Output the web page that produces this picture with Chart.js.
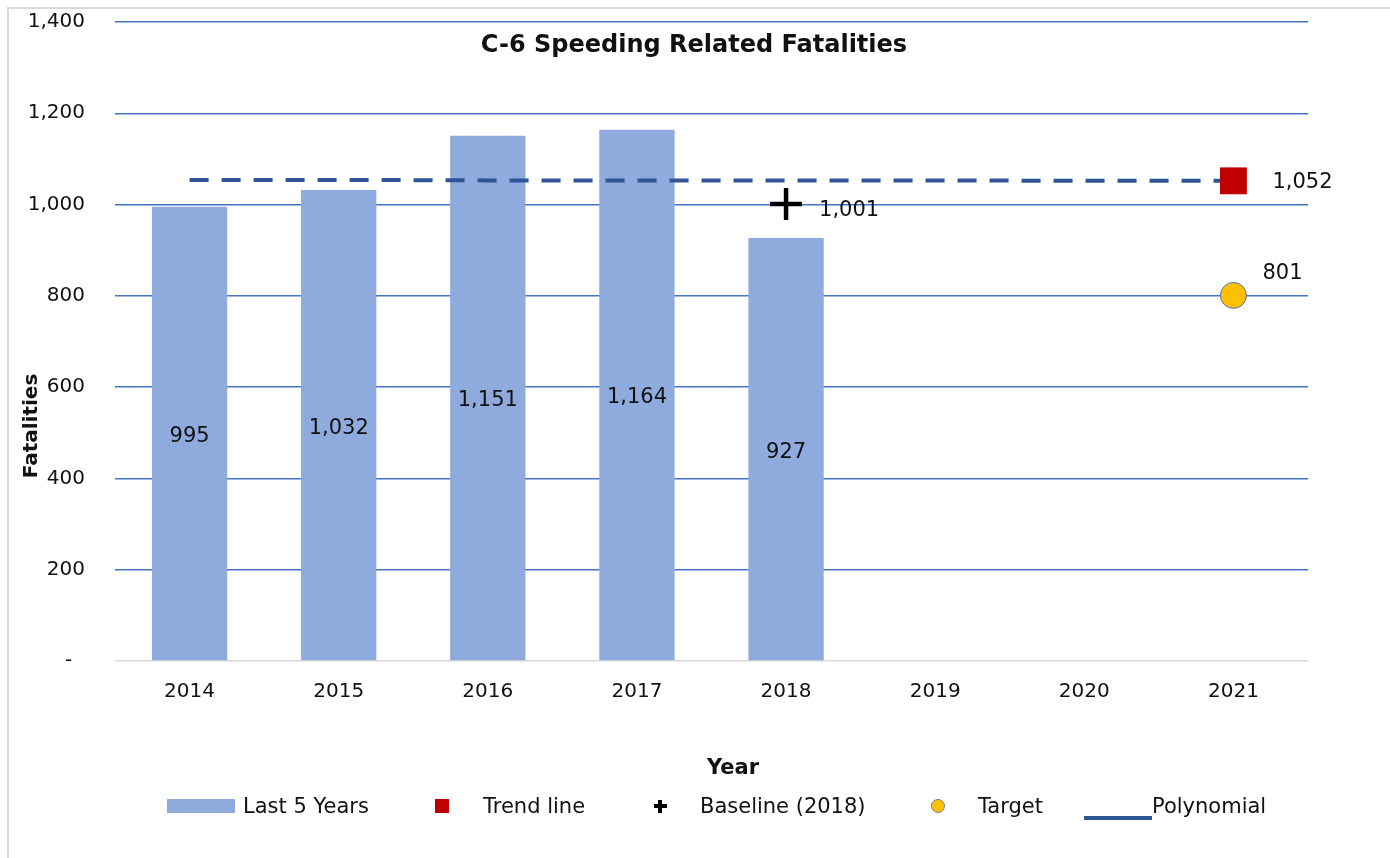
<!DOCTYPE html>
<html>
<head>
<meta charset="utf-8">
<script src="https://cdn.jsdelivr.net/npm/chart.js@4"></script>
<style>
  body { margin: 0; background: #fff; overflow: hidden; font-family: "DejaVu Sans", sans-serif; }
  #frame { position: absolute; left: 7px; top: 7px; width: 1500px; height: 1000px; border: 2px solid #d9d9d9; }
  #wrap { position: absolute; left: 0; top: 0; width: 1390px; height: 858px; }
  .lg { position: absolute; }
  .lgtext { position: absolute; top: 794px; font-size: 21px; line-height: 24px; color: #111; white-space: nowrap; }
</style>
</head>
<body>
<div id="frame"></div>
<div id="wrap"><canvas id="speeding-chart" width="1390" height="858"></canvas></div>

<!-- legend -->
<div class="lg" style="left:167px;top:799px;width:68px;height:14px;background:#8FAADC"></div>
<div class="lgtext" style="left:243px">Last 5 Years</div>
<div class="lg" style="left:435px;top:799px;width:14px;height:14px;background:#C00000"></div>
<div class="lgtext" style="left:483px">Trend line</div>
<div class="lg" style="left:654px;top:804px;width:13px;height:4px;background:#000"></div>
<div class="lg" style="left:658px;top:800px;width:4px;height:13px;background:#000"></div>
<div class="lgtext" style="left:700px">Baseline (2018)</div>
<div class="lg" style="left:931px;top:799px;width:12px;height:12px;border-radius:50%;background:#FFC000;border:1px solid #7a7f95"></div>
<div class="lgtext" style="left:978px">Target</div>
<div class="lg" style="left:1084px;top:816px;width:68px;height:4px;background:#2F5597"></div>
<div class="lgtext" style="left:1152px">Polynomial</div>

<script>
// chart data
const years = ['2014', '2015', '2016', '2017', '2018', '2019', '2020', '2021'];
const last_5_years = [995, 1032, 1151, 1164, 927, null, null, null];
const trend_line = [null, null, null, null, null, null, null, 1052];
const baseline_2018 = [null, null, null, null, 1001, null, null, null];
const target = [null, null, null, null, null, null, null, 801];
const polynomial = [1054, 1054, 1053, 1053, 1053, 1053, 1052, 1052];
const y_ticks = [0, 200, 400, 600, 800, 1000, 1200, 1400];

const font_family = '"DejaVu Sans", sans-serif';
const fmt = v => v.toLocaleString('en-US');

// value labels + titles drawn on the canvas
const labelsPlugin = {
    id: 'labels',
    afterDatasetsDraw(chart) {
        const ctx = chart.ctx;
        ctx.save();
        ctx.fillStyle = '#111';
        ctx.font = '21px ' + font_family;
        ctx.textBaseline = 'middle';
        chart.data.datasets.forEach((ds, i) => {
            if (!ds.labelPos) return;
            let meta = chart.getDatasetMeta(i);
            meta.data.forEach((el, j) => {
                let v = ds.data[j];
                if (v === null || v === undefined) return;
                if (ds.labelPos === 'center') {
                    ctx.textAlign = 'center';
                    ctx.fillText(fmt(v), el.x, (el.y + el.base) / 2 + 3);
                } else {
                    ctx.textAlign = 'left';
                    ctx.fillText(fmt(v), el.x + ds.labelPos[0], el.y + ds.labelPos[1]);
                }
            });
        });
        ctx.restore();
    },
    afterDraw(chart) {
        const ctx = chart.ctx;
        ctx.save();
        ctx.fillStyle = '#111';
        ctx.textAlign = 'center';
        ctx.textBaseline = 'middle';
        ctx.font = 'bold 24px ' + font_family;
        ctx.fillText('C-6 Speeding Related Fatalities', 694, 46);
        ctx.font = 'bold 21px ' + font_family;
        ctx.fillText('Year', 733, 769);
        ctx.translate(32, 426);
        ctx.rotate(-Math.PI / 2);
        ctx.font = 'bold 20px ' + font_family;
        ctx.fillText('Fatalities', 0, 0);
        ctx.restore();
    }
};

let speeding_chart = new Chart(document.getElementById('speeding-chart').getContext('2d'), {
    data: {
        labels: years,
        datasets: [
            {
                type: 'line',
                label: 'Target',
                data: target,
                showLine: false,
                pointStyle: 'circle',
                pointRadius: 13,
                pointHoverRadius: 13,
                backgroundColor: '#FFC000',
                borderColor: '#4472C4',
                borderWidth: 1,
                labelPos: [29, -22],
                order: 1
            },
            {
                type: 'line',
                label: 'Baseline (2018)',
                data: baseline_2018,
                showLine: false,
                pointStyle: 'cross',
                pointRadius: 16,
                pointHoverRadius: 16,
                borderColor: '#000',
                pointBorderWidth: 4.5,
                labelPos: [33, 6],
                order: 2
            },
            {
                type: 'line',
                label: 'Trend line',
                data: trend_line,
                showLine: false,
                pointStyle: 'rect',
                pointRadius: 19,
                pointHoverRadius: 19,
                backgroundColor: '#C00000',
                borderColor: '#C00000',
                borderWidth: 0,
                labelPos: [39, 2],
                order: 3
            },
            {
                type: 'line',
                label: 'Polynomial',
                data: polynomial,
                borderColor: '#2F5597',
                borderWidth: 4,
                borderDash: [19, 13],
                pointRadius: 0,
                tension: 0,
                order: 4
            },
            {
                type: 'bar',
                label: 'Last 5 Years',
                data: last_5_years,
                backgroundColor: '#8FAADC',
                borderWidth: 0,
                barPercentage: 1,
                categoryPercentage: 0.505,
                labelPos: 'center',
                order: 5
            }
        ]
    },
    options: {
        responsive: false,
        animation: false,
        events: [],
        layout: { padding: { left: 0, top: 22, right: 82, bottom: 137 } },
        plugins: {
            legend: { display: false },
            title: { display: false },
            tooltip: { enabled: false }
        },
        scales: {
            x: {
                grid: { display: false },
                border: { display: false },
                ticks: { color: '#111', font: { family: font_family, size: 20 }, padding: 11 },
                afterFit: s => { s.height = 60; }
            },
            y: {
                min: 0,
                max: 1400,
                afterBuildTicks: s => { s.ticks = y_ticks.map(v => ({ value: v })); },
                grid: {
                    drawTicks: true,
                    tickLength: 30,
                    tickColor: 'rgba(0,0,0,0)',
                    lineWidth: 1.5,
                    color: c => c.tick.value === 0 ? '#d9d9d9' : '#4472C4'
                },
                border: { display: false },
                ticks: {
                    color: '#111',
                    font: { family: font_family, size: 20 },
                    padding: 0,
                    callback: v => v === 0 ? '-  ' : fmt(v)
                },
                afterFit: s => { s.width = 115; }
            }
        }
    },
    plugins: [labelsPlugin]
});
</script>
</body>
</html>
